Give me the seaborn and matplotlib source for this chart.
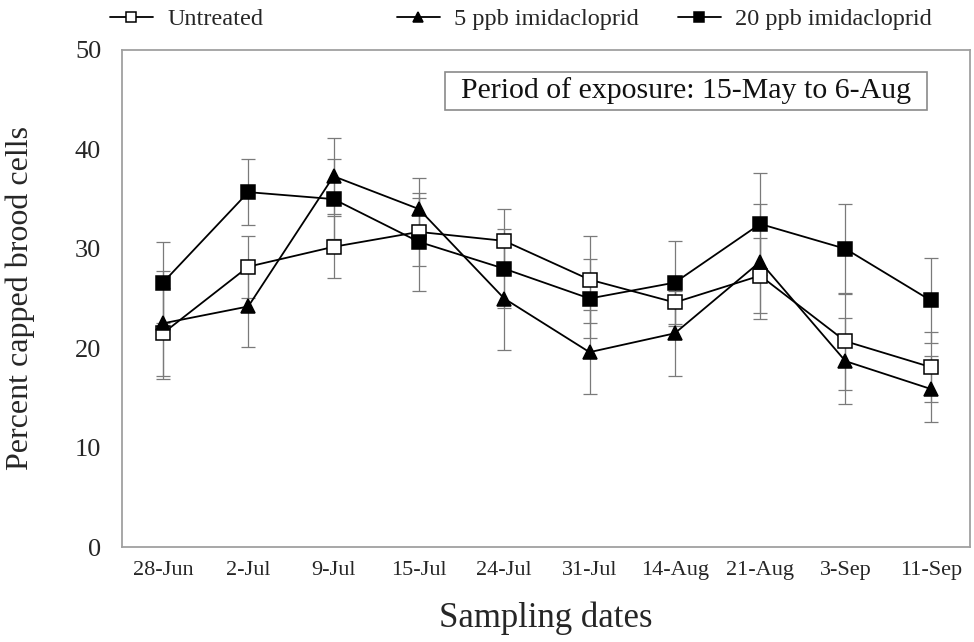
import numpy as np
import matplotlib
matplotlib.use('Agg')
import matplotlib.pyplot as plt
import seaborn as sns
from matplotlib.patches import Rectangle

# data
dates = ['28-Jun', '2-Jul', '9-Jul', '15-Jul', '24-Jul', '31-Jul', '14-Aug', '21-Aug', '3-Sep', '11-Sep']
untreated = [21.5, 28.2, 30.2, 31.7, 30.8, 26.9, 24.6, 27.3, 20.7, 18.1]
untreated_err = [4.6, 3.1, 3.1, 3.4, 3.2, 4.4, 2.4, 3.8, 4.9, 3.5]
ppb5 = [22.5, 24.2, 37.3, 34.0, 25.0, 19.6, 21.5, 28.7, 18.7, 15.9]
ppb5_err = [5.3, 4.1, 3.8, 3.1, 5.2, 4.2, 4.3, 5.8, 4.3, 3.3]
ppb20 = [26.6, 35.7, 35.0, 30.7, 28.0, 25.0, 26.6, 32.5, 30.0, 24.8]
ppb20_err = [4.1, 3.3, 4.0, 4.9, 4.0, 4.0, 4.2, 5.1, 4.5, 4.3]
series_names = ['Untreated', '5 ppb imidacloprid', '20 ppb imidacloprid']
y_ticks = [0, 10, 20, 30, 40, 50]

sns.set_theme(style='white')
plt.rcParams['font.family'] = ['Liberation Serif', 'DejaVu Serif']

fig = plt.figure(figsize=(9.74, 6.42), dpi=100)
ax = fig.add_axes([122/974, 1-547/642, (970-122)/974, (547-50)/642])

x = np.arange(len(dates))
series = [(untreated, untreated_err, 's', 'white'),
          (ppb5, ppb5_err, '^', 'black'),
          (ppb20, ppb20_err, 's', 'black')]

# error bars behind the lines
for vals, err, mk, fc in series:
    ax.errorbar(x, vals, yerr=err, fmt='none', ecolor='#7a7a7a', elinewidth=0.9,
                capsize=4.7, capthick=0.9, zorder=1)

for (vals, err, mk, fc), name in zip(series, series_names):
    sns.lineplot(x=x, y=vals, ax=ax, color='black', linewidth=1.3, marker=mk,
                 markersize=9.5 if mk == 's' else 10, markerfacecolor=fc,
                 markeredgecolor='black', markeredgewidth=1.1,
                 estimator=None, sort=False, label=name, zorder=3)
if ax.get_legend():
    ax.get_legend().remove()

ax.set_xlim(-0.48, 9.46)
ax.set_ylim(0, 50)
ax.set_xticks(x)
ax.set_xticklabels(dates, fontsize=16)
ax.set_yticks(y_ticks)
ax.set_yticklabels([str(t) for t in y_ticks], fontsize=19)
ax.tick_params(axis='x', direction='in', length=8, width=1, color='#9a9a9a', pad=10)
ax.tick_params(axis='y', direction='in', length=7, width=1, color='#9a9a9a', pad=15)
for s in ax.spines.values():
    s.set_visible(True)
    s.set_color('#a0a0a0')
    s.set_linewidth(1.3)

ax.set_xlabel('Sampling dates', fontsize=25)
ax.set_ylabel('Percent capped brood cells', fontsize=23)
ax.xaxis.set_label_coords(0.5, -0.11)
ax.yaxis.set_label_coords(-0.103, 0.5)

# exposure box
ax.add_patch(Rectangle((0.381, 0.879), 0.568, 0.077, transform=ax.transAxes,
                       fill=False, edgecolor='#8a8a8a', linewidth=1.2, zorder=4))
ax.text(0.665, 0.9175, 'Period of exposure: 15-May to 6-Aug', transform=ax.transAxes,
        ha='center', va='center', fontsize=21.5, color='#111111')

# legend entries spread along the top
handles, labels = ax.get_legend_handles_labels()
for h, lab, xpos in zip(handles, labels, [110/974, 397/974, 678/974]):
    fig.legend(handles=[h], labels=[lab], loc='center left', bbox_to_anchor=(xpos, 1-19/642),
               frameon=False, fontsize=17.5, handlelength=1.75, handletextpad=0.6,
               borderpad=0, borderaxespad=0, markerscale=0.75)

fig.savefig('out.png', dpi=100, facecolor='white')
